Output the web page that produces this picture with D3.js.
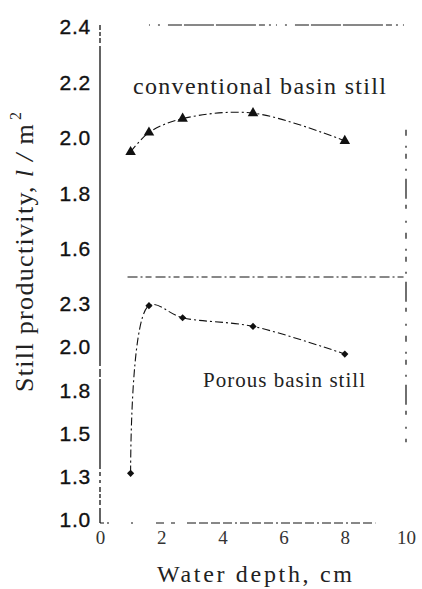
<!DOCTYPE html>
<html>
<head>
<meta charset="utf-8">
<script src="https://cdn.jsdelivr.net/npm/d3@7"></script>
<style>
  html, body { margin: 0; padding: 0; background: #fff; }
  svg { display: block; }
</style>
</head>
<body>
<script>
// Water depth (cm) for both stills
const depthCm = [1.0, 1.6, 2.7, 5.0, 8.0];
// Daily productivity, l/m^2
const conventionalYield = [1.95, 2.02, 2.07, 2.09, 1.99];
const porousYield = [1.27, 2.24, 2.17, 2.12, 1.96];

// Axis ticks
const xTicks = [0, 2, 4, 6, 8, 10];
const topTicks = [2.4, 2.2, 2.0, 1.8, 1.6];
const bottomTicks = [2.25, 2.0, 1.75, 1.5, 1.25, 1.0];
const bottomTickLabels = ["2.3", "2.0", "1.8", "1.5", "1.3", "1.0"];

const W = 422, H = 589;
const svg = d3.select("body").append("svg").attr("width", W).attr("height", H);

const x = d3.scaleLinear().domain([0, 10]).range([100, 406]);
const yTop = d3.scaleLinear().domain([1.5, 2.4]).range([277, 27]);
const yBot = d3.scaleLinear().domain([1.0, 2.4]).range([520, 278]);

const ink = "#111";
const dashDot = "8,3,2,3";
const serif = "'Liberation Serif', 'Times New Roman', serif";

// Frame: left axis, top edge, panel divider, bottom edge, right edge
const frame = svg.append("g").attr("stroke", ink).attr("fill", "none");
frame.append("line").attr("x1", x(0)).attr("x2", x(0))
  .attr("y1", yTop(2.4) - 2).attr("y2", yBot(1.0) + 3)
  .attr("stroke-width", 1.3)
  .attr("stroke-dasharray", "5,2,4,2,5,3,320,3,8,2,90,3,4,4,3,4");
frame.append("line").attr("x1", x(1.6)).attr("x2", x(10.05))
  .attr("y1", yTop(2.4) - 2).attr("y2", yTop(2.4) - 2)
  .attr("stroke-width", 1).attr("stroke-dasharray", "1,8,2,8,14,2,30,2,40,3,6,4,2,5");
frame.append("line").attr("x1", x(0.9)).attr("x2", x(10))
  .attr("y1", yTop(1.5)).attr("y2", yTop(1.5))
  .attr("stroke-width", 1).attr("stroke-dasharray", "10,3,2,3,6,4");
frame.append("line").attr("x1", x(0)).attr("x2", x(9.0))
  .attr("y1", yBot(1.0) + 3).attr("y2", yBot(1.0) + 3)
  .attr("stroke-width", 1).attr("stroke-dasharray", "4,3,2,22,2,23,8,7,4,12,9,3,9,3,9,3,9,3,2,3,9,3,9,3,9,3,2,3,9,3,9,3,9,3,2,3,9,3,9,3,2,3,9,3,9,3,9,3");
frame.append("line").attr("x1", x(10)).attr("x2", x(10))
  .attr("y1", yTop(2.03)).attr("y2", yBot(1.45))
  .attr("stroke-width", 1.2).attr("stroke-dasharray", "6,10,2,6,5,10,2,8,20,6,4,12,2,10");

// Y axes (labels only)
const axTop = svg.append("g").attr("transform", `translate(${x(0)},0)`)
  .call(d3.axisLeft(yTop).tickValues(topTicks).tickSize(0).tickPadding(9).tickFormat(d3.format(".1f")));
const axBot = svg.append("g").attr("transform", `translate(${x(0)},0)`)
  .call(d3.axisLeft(yBot).tickValues(bottomTicks).tickSize(0).tickPadding(9)
    .tickFormat((d, i) => bottomTickLabels[i]));
[axTop, axBot].forEach(a => {
  a.select(".domain").remove();
  a.selectAll("text").attr("font-family", "'Liberation Sans', Arial, sans-serif")
    .attr("font-size", 21).attr("letter-spacing", 0.8).attr("fill", ink)
    .attr("stroke", ink).attr("stroke-width", 0.35);
});

// X axis (labels only)
const axX = svg.append("g").attr("transform", `translate(0,${yBot(1.0) + 3})`)
  .call(d3.axisBottom(x).tickValues(xTicks).tickSize(0).tickPadding(8).tickFormat(d3.format("d")));
axX.select(".domain").remove();
axX.selectAll("text").attr("font-family", serif)
  .attr("font-size", 19).attr("fill", "#333");

// Axis titles
svg.append("text")
  .attr("x", 157).attr("y", 582)
  .attr("font-family", serif)
  .attr("font-size", 24).attr("fill", "#222")
  .attr("textLength", 195).attr("lengthAdjust", "spacing")
  .text("Water depth, cm");

const yt = svg.append("text")
  .attr("transform", "translate(33,392) rotate(-90)")
  .attr("font-family", serif)
  .attr("font-size", 26).attr("fill", "#222")
  .attr("textLength", 280).attr("lengthAdjust", "spacing");
yt.append("tspan").text("Still productivity, ");
yt.append("tspan").attr("font-style", "italic").text("l / ");
yt.append("tspan").text("m");
yt.append("tspan").attr("font-size", 16).attr("dy", -12).attr("dx", 3).text("2");

// Series curves
const lineTop = d3.line().curve(d3.curveCatmullRom.alpha(0.5))
  .x((d, i) => x(depthCm[i])).y(d => yTop(d));
const lineBot = d3.line().curve(d3.curveCatmullRom.alpha(0.5))
  .x((d, i) => x(depthCm[i])).y(d => yBot(d));

svg.append("path").attr("d", lineTop(conventionalYield))
  .attr("fill", "none").attr("stroke", ink).attr("stroke-width", 1.1)
  .attr("stroke-dasharray", dashDot);
svg.append("path").attr("d", lineBot(porousYield))
  .attr("fill", "none").attr("stroke", ink).attr("stroke-width", 1.1)
  .attr("stroke-dasharray", dashDot);

// Markers
svg.append("g").selectAll("path").data(conventionalYield).join("path")
  .attr("transform", (d, i) => `translate(${x(depthCm[i])},${yTop(d)})`)
  .attr("d", d3.symbol(d3.symbolTriangle, 48))
  .attr("fill", ink);
svg.append("g").selectAll("path").data(porousYield).join("path")
  .attr("transform", (d, i) => `translate(${x(depthCm[i])},${yBot(d)}) rotate(45)`)
  .attr("d", d3.symbol(d3.symbolSquare, 26))
  .attr("fill", ink);

// Series labels
svg.append("text")
  .attr("x", 133).attr("y", 94)
  .attr("font-family", serif)
  .attr("font-size", 24).attr("fill", "#222")
  .attr("textLength", 253).attr("lengthAdjust", "spacing")
  .text("conventional basin still");
svg.append("text")
  .attr("x", 203).attr("y", 387)
  .attr("font-family", serif)
  .attr("font-size", 21).attr("fill", "#222")
  .attr("textLength", 162).attr("lengthAdjust", "spacing")
  .text("Porous basin still");
</script>
</body>
</html>
